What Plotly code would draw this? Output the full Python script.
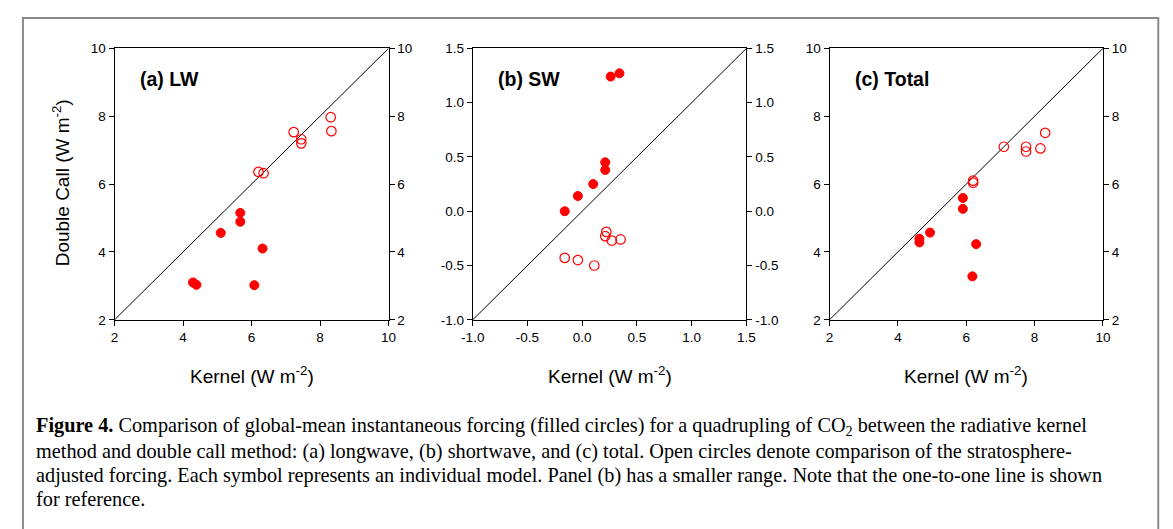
import plotly.graph_objects as go

# ---------------- data ----------------
lw_kernel_inst = [4.29, 4.39, 5.10, 5.67, 5.67, 6.32, 6.08]
lw_dc_inst = [3.10, 3.03, 4.56, 5.15, 4.89, 4.10, 3.02]
lw_kernel_adj = [6.20, 6.35, 7.23, 7.45, 7.45, 8.31, 8.33]
lw_dc_adj = [6.36, 6.32, 7.53, 7.32, 7.20, 7.97, 7.56]

sw_kernel_inst = [-0.16, -0.04, 0.10, 0.21, 0.21, 0.26, 0.34]
sw_dc_inst = [0.00, 0.14, 0.25, 0.38, 0.45, 1.24, 1.27]
sw_kernel_adj = [-0.16, -0.04, 0.11, 0.22, 0.21, 0.27, 0.35]
sw_dc_adj = [-0.43, -0.45, -0.50, -0.19, -0.23, -0.27, -0.26]

tot_kernel_inst = [4.63, 4.63, 4.94, 5.90, 5.90, 6.29, 6.18]
tot_dc_inst = [4.39, 4.28, 4.57, 5.59, 5.27, 4.23, 3.28]
tot_kernel_adj = [6.20, 6.20, 7.10, 7.75, 7.75, 8.17, 8.31]
tot_dc_adj = [6.10, 6.04, 7.10, 7.10, 6.96, 7.05, 7.51]

lw_range = [2, 10]
sw_range = [-1.0, 1.5]
tot_range = [2, 10]

lw_ticks = [2, 4, 6, 8, 10]
lw_ticktext = ["2", "4", "6", "8", "10"]
sw_ticks = [-1.0, -0.5, 0.0, 0.5, 1.0, 1.5]
sw_ticktext = ["-1.0", "-0.5", "0.0", "0.5", "1.0", "1.5"]

panel_titles = ["(a) LW", "(b) SW", "(c) Total"]
x_title = "Kernel (W m<sup>-2</sup>)"
y_title = "Double Call (W m<sup>-2</sup>)"
caption_lines = [
    "<b>Figure 4.</b> Comparison of global-mean instantaneous forcing (filled circles) for a quadrupling of CO<sub>2</sub> between the radiative kernel",
    "method and double call method: (a) longwave, (b) shortwave, and (c) total. Open circles denote comparison of the stratosphere-",
    "adjusted forcing. Each symbol represents an individual model. Panel (b) has a smaller range. Note that the one-to-one line is shown",
    "for reference.",
]

W, H = 1173, 529
OFF = 8  # page body margin


def fx(p):
    return (p - OFF) / W


def fy(p):
    return 1 - (p - OFF) / H


RED = "#FF0000"
SANS = "Liberation Sans, Arial, sans-serif"
AX_FONT = dict(family=SANS, size=13.5, color="black")

panels = [
    dict(xk=lw_kernel_inst, yk=lw_dc_inst, xa=lw_kernel_adj, ya=lw_dc_adj,
         rng=lw_range, tv=lw_ticks, tt=lw_ticktext, px=(104.3, 383.3)),
    dict(xk=sw_kernel_inst, yk=sw_dc_inst, xa=sw_kernel_adj, ya=sw_dc_adj,
         rng=sw_range, tv=sw_ticks, tt=sw_ticktext, px=(469.0, 747.7)),
    dict(xk=tot_kernel_inst, yk=tot_dc_inst, xa=tot_kernel_adj, ya=tot_dc_adj,
         rng=tot_range, tv=lw_ticks, tt=lw_ticktext, px=(832.3, 1110.7)),
]
top_px, bot_px = 42.3, 321.7
ydom = [fy(bot_px), fy(top_px)]

fig = go.Figure()
layout = dict(
    width=W, height=H, margin=dict(l=0, r=0, t=0, b=0),
    paper_bgcolor="white", plot_bgcolor="white", showlegend=False,
)
annotations = []

for i, p in enumerate(panels):
    xn = "x" if i == 0 else f"x{i+1}"
    yl = "y" if i == 0 else f"y{2*i+1}"
    yr = f"y{2*i+2}"
    xkey = "xaxis" if i == 0 else f"xaxis{i+1}"
    ylkey = "yaxis" if i == 0 else f"yaxis{2*i+1}"
    yrkey = f"yaxis{2*i+2}"
    xdom = [fx(p["px"][0]), fx(p["px"][1])]
    common = dict(range=p["rng"], tickvals=p["tv"], ticktext=p["tt"],
                  showgrid=False, zeroline=False, showline=True,
                  linecolor="black", linewidth=1, ticks="outside",
                  ticklen=5, tickwidth=1, tickcolor="black",
                  tickfont=AX_FONT)
    layout[xkey] = dict(common, domain=xdom, anchor=yl, mirror=True)
    layout[ylkey] = dict(common, domain=ydom, anchor=xn)
    layout[yrkey] = dict(common, overlaying=yl, side="right", anchor=xn)

    # one-to-one line
    fig.add_trace(go.Scatter(x=p["rng"], y=p["rng"], mode="lines",
                             line=dict(color="black", width=1),
                             xaxis=xn, yaxis=yl, hoverinfo="skip"))
    # instantaneous forcing (filled circles)
    fig.add_trace(go.Scatter(x=p["xk"], y=p["yk"], mode="markers",
                             marker=dict(symbol="circle", size=9, color=RED,
                                         line=dict(color=RED, width=1)),
                             xaxis=xn, yaxis=yl))
    # stratosphere-adjusted forcing (open circles)
    fig.add_trace(go.Scatter(x=p["xa"], y=p["ya"], mode="markers",
                             marker=dict(symbol="circle-open", size=9.5, color=RED,
                                         line=dict(color=RED, width=1.2)),
                             xaxis=xn, yaxis=yl))
    # invisible trace so the right-hand axis is drawn
    fig.add_trace(go.Scatter(x=[p["rng"][0]], y=[p["rng"][0]], mode="markers",
                             marker=dict(opacity=0), xaxis=xn, yaxis=yr,
                             hoverinfo="skip"))

    # panel label
    annotations.append(dict(
        text=f"<b>{panel_titles[i]}</b>", x=fx(p["px"][0] + 23.5), y=fy(74),
        xref="paper", yref="paper", xanchor="left", yanchor="middle",
        showarrow=False, font=dict(family=SANS, size=19.5, color="black")))
    # x title
    annotations.append(dict(
        text=x_title, x=fx((p["px"][0] + p["px"][1]) / 2), y=fy(378),
        xref="paper", yref="paper", xanchor="center", yanchor="middle",
        showarrow=False, font=dict(family=SANS, size=19, color="black")))

# y title
annotations.append(dict(
    text=y_title, x=fx(50), y=fy(181), xref="paper", yref="paper",
    xanchor="center", yanchor="middle", textangle=-90, showarrow=False,
    font=dict(family=SANS, size=19, color="black")))

# caption
cap_y = [432, 457, 481.5, 506]
for line, yy in zip(caption_lines, cap_y):
    annotations.append(dict(
        text=line, x=fx(22), y=fy(yy), xref="paper", yref="paper",
        xanchor="left", yanchor="middle", showarrow=False,
        font=dict(family="Liberation Serif, Times New Roman, serif", size=20.3, color="black")))

layout["annotations"] = annotations
layout["shapes"] = [dict(type="rect", xref="paper", yref="paper",
                         x0=fx(11), x1=fx(1167), y0=-0.05, y1=fy(11),
                         line=dict(color="#8a8a8a", width=2), fillcolor="rgba(0,0,0,0)")]

fig.update_layout(**layout)
fig.write_html("out.html")
